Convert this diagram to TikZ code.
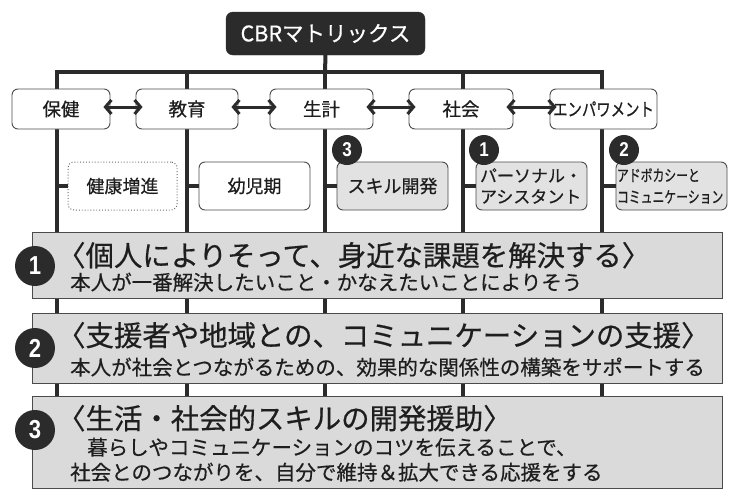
\documentclass[tikz,border=0pt]{standalone}
\usepackage{fontspec}
\setmainfont{Noto Sans CJK JP}[FakeBold=0.5]
\newfontfamily\condfont[FakeStretch=0.8,FakeBold=0.5]{Noto Sans CJK JP}
\newfontfamily\condfontb[FakeStretch=0.74,FakeBold=0.4]{Noto Sans CJK JP}
\newfontfamily\numfont[FakeStretch=0.85]{Liberation Sans}
\usetikzlibrary{arrows.meta}
\definecolor{ink}{HTML}{2B2B2B}
\definecolor{txt}{HTML}{1E1E1E}
\definecolor{bandfill}{HTML}{DADADA}
\definecolor{boxgray}{HTML}{E2E2E2}
\begin{document}
\begin{tikzpicture}[x=1pt,y=-1pt,
  bus/.style={line width=4pt, draw=ink},
  titlebox/.style={draw=ink, fill=ink, rounded corners=7pt, text=white, inner sep=0pt,
    minimum width=199pt, minimum height=43pt, font=\fontsize{21.5}{24}\selectfont},
  topbox/.style={draw=ink!85, line width=0.9pt, rounded corners=6pt, fill=white, inner sep=0pt,
    minimum height=40pt, text=txt, font=\fontsize{18.5}{22}\selectfont},
  subbox/.style={draw=ink!85, line width=0.9pt, rounded corners=6pt, fill=white, inner sep=0pt,
    minimum width=111pt, minimum height=48pt, text=txt, font=\fontsize{18}{22}\selectfont},
  graybox/.style={subbox, fill=boxgray},
  dotbox/.style={subbox, draw=ink!70, dotted, line width=1pt},
  dbl/.style={line width=3pt, draw=ink, {Straight Barb[length=6pt,width=14pt]}-{Straight Barb[length=6pt,width=14pt]}, shorten <=-7pt, shorten >=-7pt},
  band/.style={draw=ink!85, line width=1.1pt, fill=bandfill, anchor=north west, inner sep=0pt, minimum width=690pt},
  smallbadge/.style={circle, fill=ink, text=white, inner sep=0pt, minimum size=30pt, font=\numfont\bfseries\fontsize{20}{20}\selectfont},
  bigbadge/.style={circle, fill=ink, text=white, inner sep=0pt, minimum size=40pt, font=\numfont\bfseries\fontsize{26}{28}\selectfont},
  btitle/.style={anchor=base west, inner sep=0pt, text=txt, font=\fontsize{28.4}{30}\selectfont},
  bsub/.style={anchor=base west, inner sep=0pt, text=txt, font=\fontsize{20.5}{24}\selectfont},
  stub/.style={line width=4pt, draw=ink}
]
\useasboundingbox (0,0) rectangle (740,504);

% title
\node[titlebox] (cbr) at (325.5,33.5) {CBRマトリックス};

% bus coordinates
\coordinate (j1) at (57,72);
\coordinate (j2) at (187,72);
\coordinate (j3) at (325,72);
\coordinate (j4) at (463,72);
\coordinate (j5) at (602,72);
\coordinate (e1) at (57,397);
\coordinate (e2) at (187,397);
\coordinate (e3) at (325,397);
\coordinate (e4) at (463,397);
\coordinate (e5) at (602,397);

\draw[bus, line join=miter] (e1) -- (j1) -- (j5) -- (e5);
\draw[bus] (j2) -- (e2);
\draw[bus] (j3) -- (e3);
\draw[bus] (j4) -- (e4);
\draw[bus] (cbr.south) -- (j3);

% top row
\node[topbox, minimum width=98pt] (hoken) at (61,109) {保健};
\node[topbox, minimum width=102pt] (kyoiku) at (187,109) {教育};
\node[topbox, minimum width=103pt] (seikei) at (321.5,109) {生計};
\node[topbox, minimum width=104pt] (shakai) at (461,109) {社会};
\node[topbox, minimum width=107pt, font=\condfont\fontsize{18}{22}\selectfont] (empw) at (603.5,109) {エンパワメント};

\draw[dbl] ([yshift=2pt]hoken.east) -- ([yshift=2pt]kyoiku.west);
\draw[dbl] ([yshift=2pt]kyoiku.east) -- ([yshift=2pt]seikei.west);
\draw[dbl] ([yshift=2pt]seikei.east) -- ([yshift=2pt]shakai.west);
\draw[dbl] ([yshift=2pt]shakai.east) -- ([yshift=2pt]empw.west);

% second row
\node[dotbox, minimum width=109pt] (kenko) at (122.5,186) {健康増進};
\node[subbox] (yoji) at (254.5,186) {幼児期};
\node[graybox] (skill) at (392.5,186) {スキル開発};
\node[graybox, align=left, text width=103pt, font=\fontsize{17}{21}\selectfont] (pa) at (531.5,186) {パーソナル・\\アシスタント};
\node[graybox, align=left, text width=109pt, font=\condfontb\fontsize{16}{21.5}\selectfont] (adv) at (671.5,186) {アドボカシーと\\コミュニケーション};

\draw[stub] (j1 |- kenko.west) -- (kenko.west);
\draw[stub] (j2 |- yoji.west) -- (yoji.west);
\draw[stub] (j3 |- skill.west) -- (skill.west);
\draw[stub] (j4 |- pa.west) -- (pa.west);
\draw[stub] (j5 |- adv.west) -- (adv.west);

\node[smallbadge] (s3) at (347,150) {3};
\node[smallbadge] (s1) at (484,150) {1};
\node[smallbadge] (s2) at (624,150) {2};

% bands
\node[band, minimum height=66pt] (band1) at (32,232) {};
\node[band, minimum height=70pt] (band2) at (32,313) {};
\node[band, minimum height=92pt] (band3) at (32,396) {};

\node[bigbadge] (n1) at (35,266) {1};
\node[bigbadge] (n2) at (35,348) {2};
\node[bigbadge] (n3) at (35,430) {3};

\node[btitle] (t1) at (57,266) {〈個人によりそって、身近な課題を解決する〉};
\node[bsub] (u1) at (70,290) {本人が一番解決したいこと・かなえたいことによりそう};
\node[btitle] (t2) at (57,346) {〈支援者や地域との、コミュニケーションの支援〉};
\node[bsub] (u2) at (70,375) {本人が社会とつながるための、効果的な関係性の構築をサポートする};
\node[btitle] (t3) at (57,429) {〈生活・社会的スキルの開発援助〉};
\node[bsub] (u3) at (87,455) {暮らしやコミュニケーションのコツを伝えることで、};
\node[bsub] (u4) at (70,480) {社会とのつながりを、自分で維持＆拡大できる応援をする};
\end{tikzpicture}
\end{document}
